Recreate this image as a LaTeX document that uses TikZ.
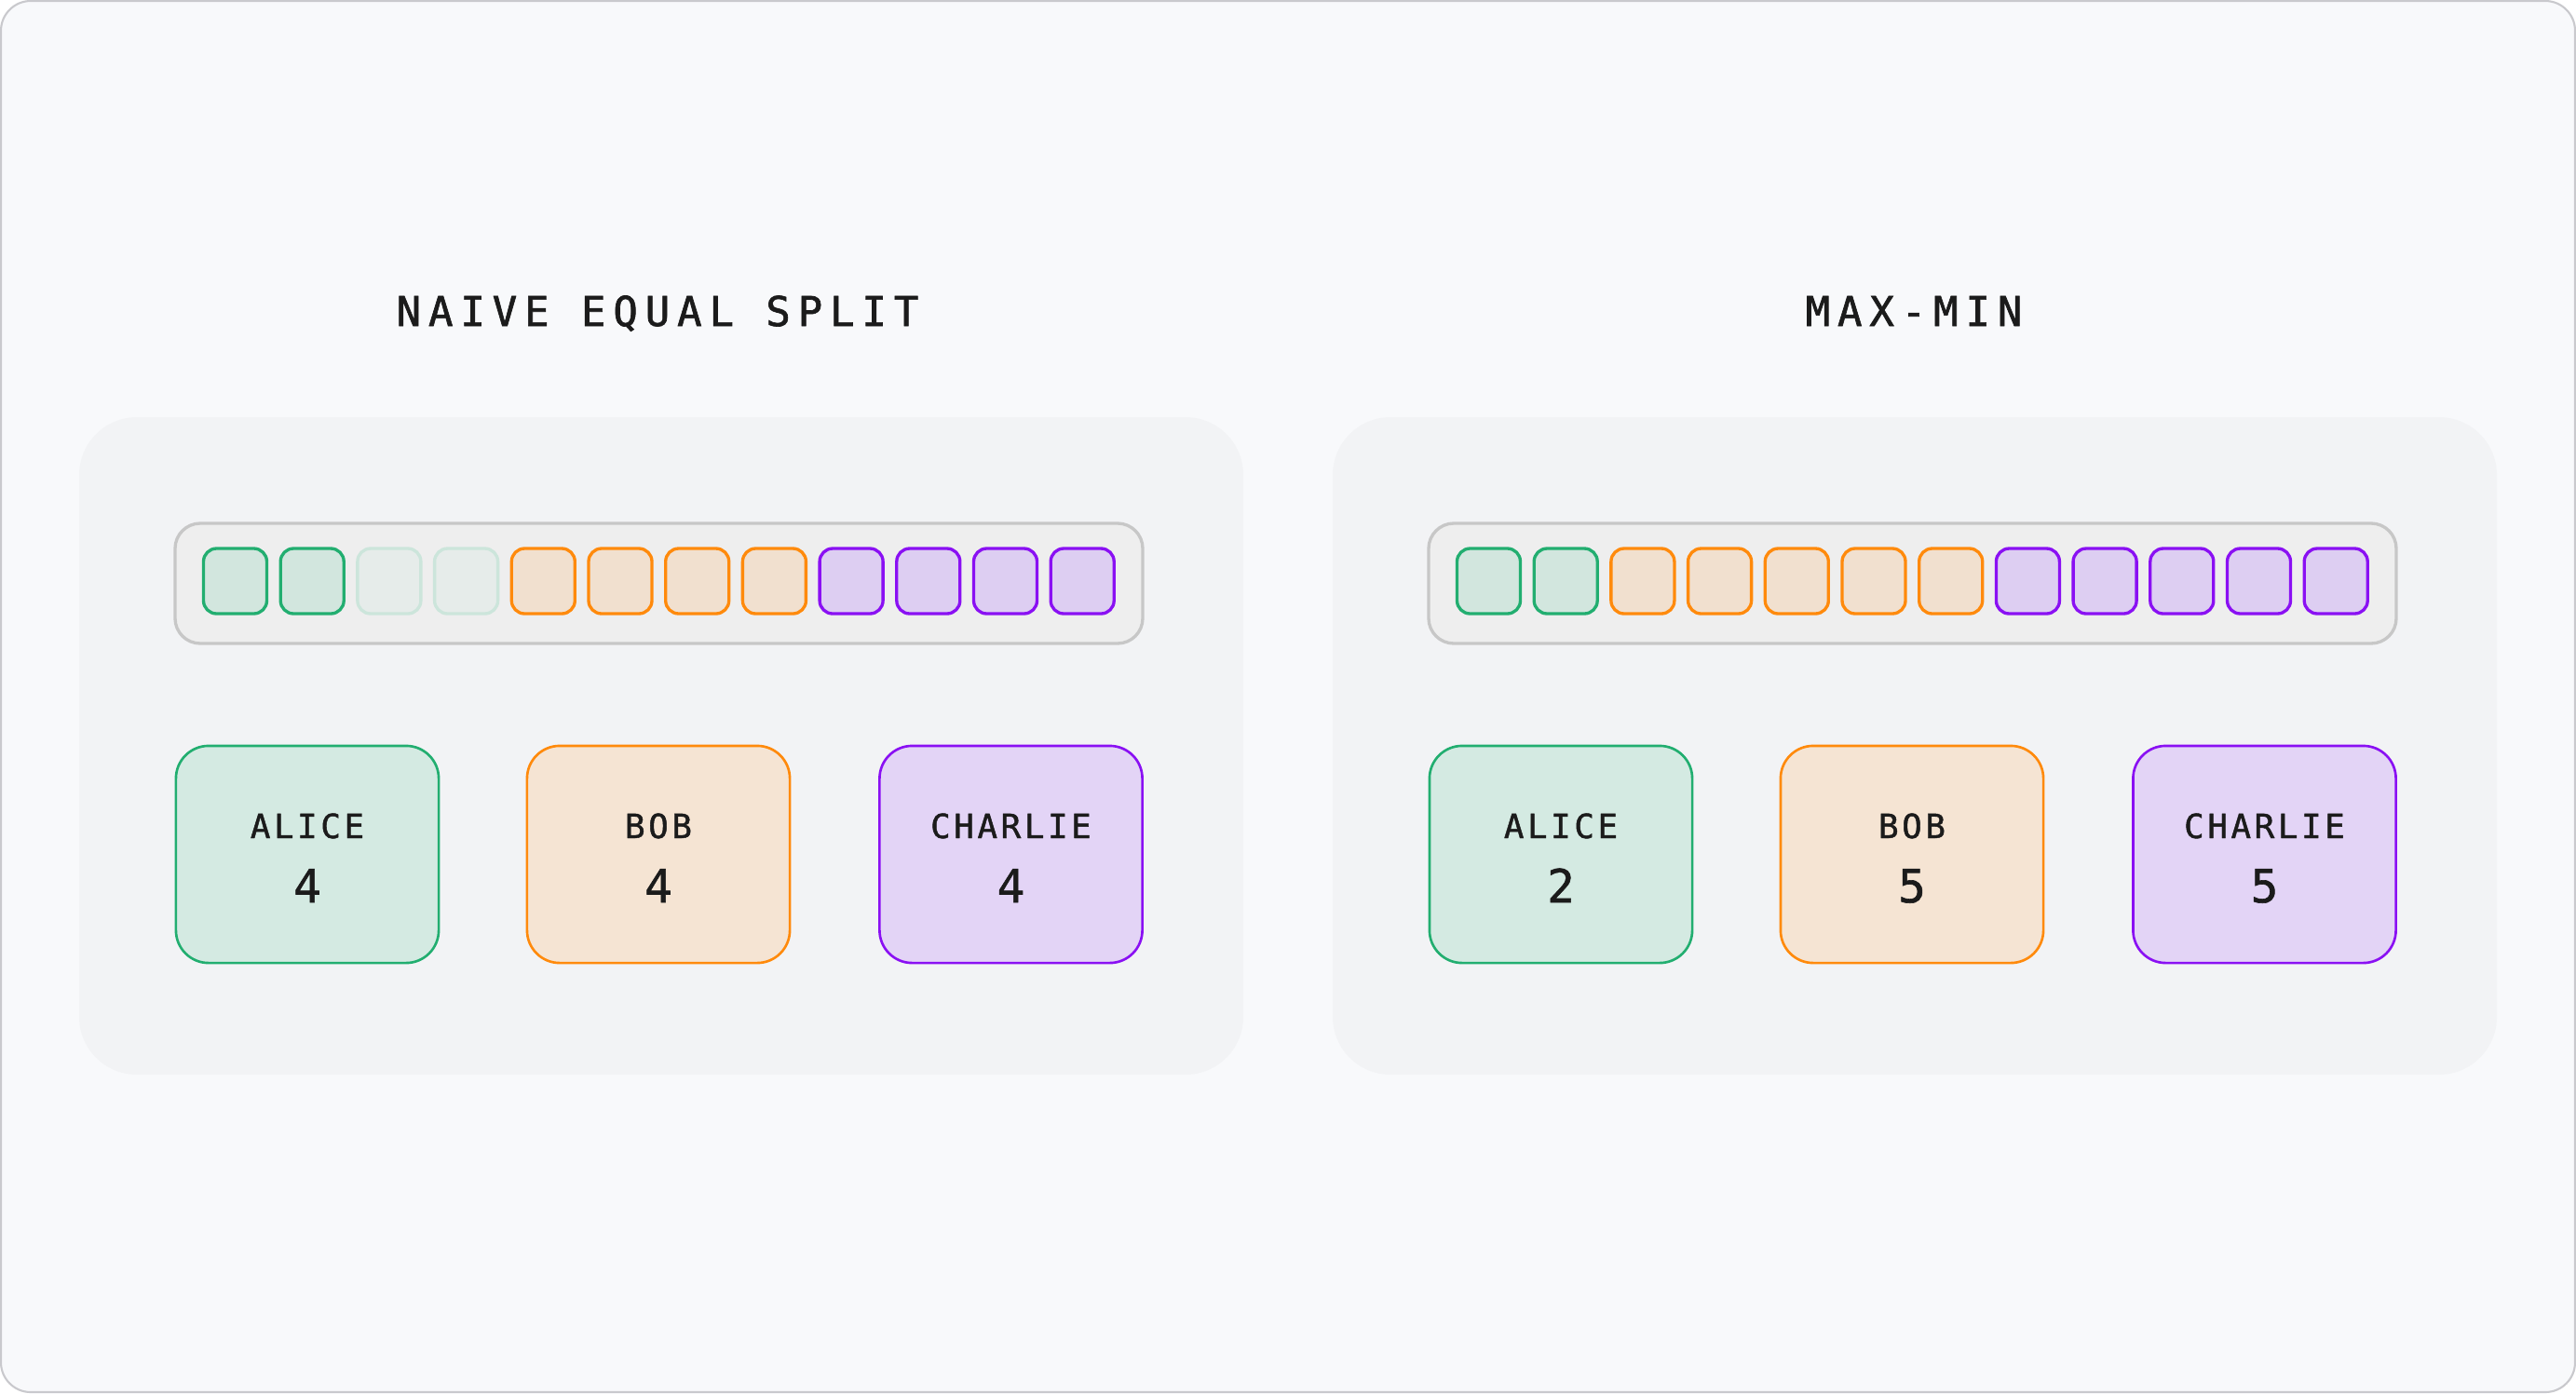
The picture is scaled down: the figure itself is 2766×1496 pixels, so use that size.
\documentclass[tikz,border=0pt]{standalone}
\usepackage{fontspec}
\newfontfamily\titlefont[LetterSpace=18, FakeBold=1.5]{DejaVu Sans Mono}
\newfontfamily\namefont[LetterSpace=10, FakeBold=1.2]{DejaVu Sans Mono}
\newfontfamily\countfont[FakeBold=1.2]{DejaVu Sans Mono}

\definecolor{pagebg}{HTML}{F8F9FB}
\definecolor{pageline}{HTML}{C9C9CD}
\definecolor{panelbg}{HTML}{F2F3F5}
\definecolor{stripbg}{HTML}{EEEEEE}
\definecolor{stripline}{HTML}{C7C7C7}
\definecolor{ink}{HTML}{1B1B1B}
\definecolor{lineG}{HTML}{22AE70}
\definecolor{cellG}{HTML}{D2E6DE}
\definecolor{boxG}{HTML}{D4EAE2}
\definecolor{lineF}{HTML}{CCE5DB}
\definecolor{cellF}{HTML}{E6ECEA}
\definecolor{lineO}{HTML}{FF8A0C}
\definecolor{cellO}{HTML}{F1E0CF}
\definecolor{boxO}{HTML}{F5E4D3}
\definecolor{lineP}{HTML}{8A10F3}
\definecolor{cellP}{HTML}{DDCEF2}
\definecolor{boxP}{HTML}{E3D4F6}

\tikzset{
  panel/.style={fill=panelbg, rounded corners=0.62cm},
  strip/.style={fill=stripbg, draw=stripline, line width=0.95pt, rounded corners=0.27cm},
  cell/.style={line width=0.95pt, rounded corners=0.14cm},
  personbox/.style={draw, line width=0.75pt, rounded corners=0.35cm,
    minimum width=2.82cm, minimum height=2.33cm, inner sep=0pt},
  heading/.style={anchor=base, text=ink, inner sep=0pt, font=\titlefont\fontsize{12.5}{15}\selectfont},
  who/.style={anchor=base, text=ink, inner sep=0pt, font=\namefont\fontsize{10.2}{12}\selectfont},
  howmany/.style={anchor=base, text=ink, inner sep=0pt, font=\countfont\fontsize{14}{17}\selectfont}
}

\begin{document}
\begin{tikzpicture}[x=0.01cm, y=-0.01cm]
    \useasboundingbox (0,0) rectangle (2766,1496);
    \filldraw[fill=pagebg, draw=pageline, line width=0.6pt, rounded corners=0.32cm] (1,1) rectangle (2765,1495);

    % left: naive equal split
    \node[heading] (titleL) at (706,350) {NAIVE EQUAL SPLIT};
    \fill[panel] (85,448) rectangle (1335,1154);
    \draw[strip] (188,562) rectangle (1227,691);
    \foreach \c [count=\i from 0] in {G,G,F,F,O,O,O,O,P,P,P,P} {
        \filldraw[cell, fill=cell\c, draw=line\c] ({218.5+82.7*\i},589) rectangle ++(68,70);
    }
    \foreach \name/\x/\c/\n in {ALICE/330/G/4, BOB/707/O/4, CHARLIE/1085.5/P/4} {
        \node[personbox, fill=box\c, draw=line\c] (boxL\c) at (\x,917.5) {};
        \node[who] (nameL\c) at ([yshift=0.175cm]boxL\c.center) {\name};
        \node[howmany] (countL\c) at ([yshift=-0.515cm]boxL\c.center) {\n};
    }

    % right: max-min
    \node[heading] (titleR) at (2055,350) {MAX-MIN};
    \fill[panel] (1431,448) rectangle (2681,1154);
    \draw[strip] (1534,562) rectangle (2573,691);
    \foreach \c [count=\i from 0] in {G,G,O,O,O,O,O,P,P,P,P,P} {
        \filldraw[cell, fill=cell\c, draw=line\c] ({1564.5+82.7*\i},589) rectangle ++(68,70);
    }
    \foreach \name/\x/\c/\n in {ALICE/1676/G/2, BOB/2053/O/5, CHARLIE/2431.5/P/5} {
        \node[personbox, fill=box\c, draw=line\c] (boxR\c) at (\x,917.5) {};
        \node[who] (nameR\c) at ([yshift=0.175cm]boxR\c.center) {\name};
        \node[howmany] (countR\c) at ([yshift=-0.515cm]boxR\c.center) {\n};
    }
\end{tikzpicture}
\end{document}
